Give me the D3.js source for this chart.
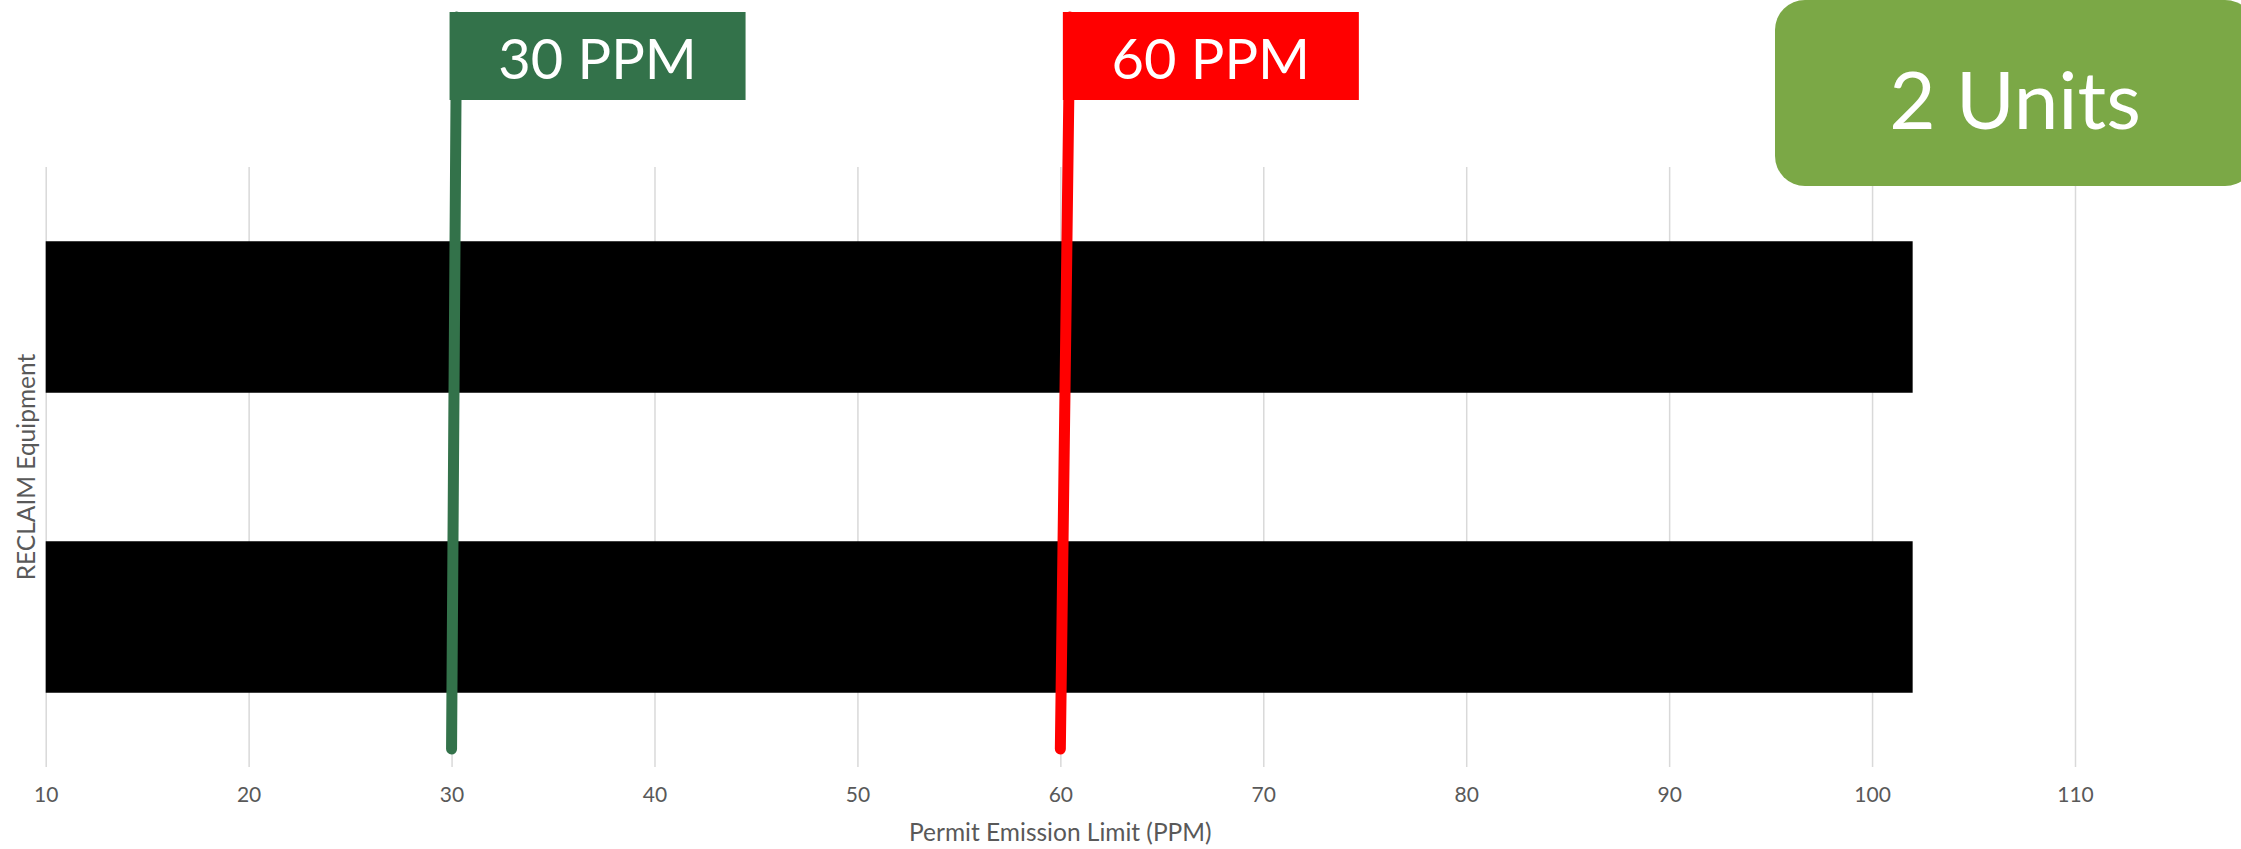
<!DOCTYPE html>
<html>
<head>
<meta charset="utf-8">
<script src="https://cdn.jsdelivr.net/npm/d3@7"></script>
<style>
  html, body { margin: 0; padding: 0; background: #ffffff; }
  svg { display: block; }
  text { font-family: Lato, "Open Sans", sans-serif; }
</style>
</head>
<body>
<svg id="chart" width="2241" height="849"></svg>
<script>
// ---- data ----
const categories = ["Unit 1", "Unit 2"];
const emissionValues = [102, 102];
const xTickValues = [10, 20, 30, 40, 50, 60, 70, 80, 90, 100, 110];
const limitValues = [30, 60];
const limitLabels = ["30 PPM", "60 PPM"];
const limitColors = ["#33724a", "#ff0000"];
const unitsLabel = "2 Units";
const xAxisTitle = "Permit Emission Limit (PPM)";
const yAxisTitle = "RECLAIM Equipment";

// ---- layout ----
const W = 2241, H = 849;
const plotTop = 167, plotBottom = 767;
const svg = d3.select("#chart");

const x = d3.scaleLinear().domain([10, 110]).range([45.7, 2075]);
const y = d3.scaleBand().domain(categories).range([plotTop, plotBottom])
  .paddingInner(0.495).paddingOuter(0.2475);

// gridlines + tick labels
const axis = d3.axisBottom(x)
  .tickValues(xTickValues)
  .tickSizeInner(-(plotBottom - plotTop))
  .tickSizeOuter(0)
  .tickPadding(20)
  .tickFormat(d3.format("d"));

const gAxis = svg.append("g")
  .attr("transform", `translate(0,${plotBottom})`)
  .call(axis);
gAxis.select(".domain").remove();
gAxis.selectAll(".tick line").attr("stroke", "#d9d9d9").attr("stroke-width", 1.5);
gAxis.selectAll(".tick text")
  .attr("fill", "#595959")
  .style("font-size", "21px")
  .style("font-family", "Lato, 'Open Sans', sans-serif");

// bars
svg.append("g").selectAll("rect")
  .data(categories.map((c, i) => ({ c, v: emissionValues[i] })))
  .join("rect")
  .attr("x", x(10))
  .attr("y", d => y(d.c))
  .attr("width", d => x(d.v) - x(10))
  .attr("height", y.bandwidth())
  .attr("fill", "#000000");

// axis titles
svg.append("text")
  .attr("x", (x.range()[0] + x.range()[1]) / 2)
  .attr("y", 841)
  .attr("text-anchor", "middle")
  .attr("fill", "#595959")
  .style("font-size", "24.5px")
  .text(xAxisTitle);

svg.append("text")
  .attr("transform", `translate(35,${(plotTop + plotBottom) / 2}) rotate(-90)`)
  .attr("text-anchor", "middle")
  .attr("fill", "#595959")
  .style("font-size", "24.5px")
  .text(yAxisTitle);

// limit flags
const flagTilt = [5, 9.5];
const flagTop = 12, flagH = 88, flagW = 296, lineBottom = 749;
const flags = limitValues.map((v, i) => ({
  v, label: limitLabels[i], color: limitColors[i], tilt: flagTilt[i]
}));

const gFlags = svg.append("g");
gFlags.selectAll("line")
  .data(flags)
  .join("line")
  .attr("x1", d => x(d.v))
  .attr("y1", lineBottom)
  .attr("x2", d => x(d.v) + d.tilt)
  .attr("y2", flagTop + 5)
  .attr("stroke", d => d.color)
  .attr("stroke-width", 11)
  .attr("stroke-linecap", "round");

gFlags.selectAll("rect")
  .data(flags)
  .join("rect")
  .attr("x", d => x(d.v) + d.tilt - 7)
  .attr("y", flagTop)
  .attr("width", flagW)
  .attr("height", flagH)
  .attr("fill", d => d.color);

gFlags.selectAll("text")
  .data(flags)
  .join("text")
  .attr("x", d => x(d.v) + d.tilt - 7 + flagW / 2)
  .attr("y", 79)
  .attr("text-anchor", "middle")
  .attr("fill", "#ffffff")
  .style("font-size", "56px")
  .text(d => d.label);

// units badge
svg.append("rect")
  .attr("x", 1775)
  .attr("y", 0)
  .attr("width", 480)
  .attr("height", 186)
  .attr("rx", 30)
  .attr("fill", "#7ba846");

svg.append("text")
  .attr("x", 2015)
  .attr("y", 129)
  .attr("text-anchor", "middle")
  .attr("fill", "#ffffff")
  .style("font-size", "80px")
  .text(unitsLabel);
</script>
</body>
</html>
